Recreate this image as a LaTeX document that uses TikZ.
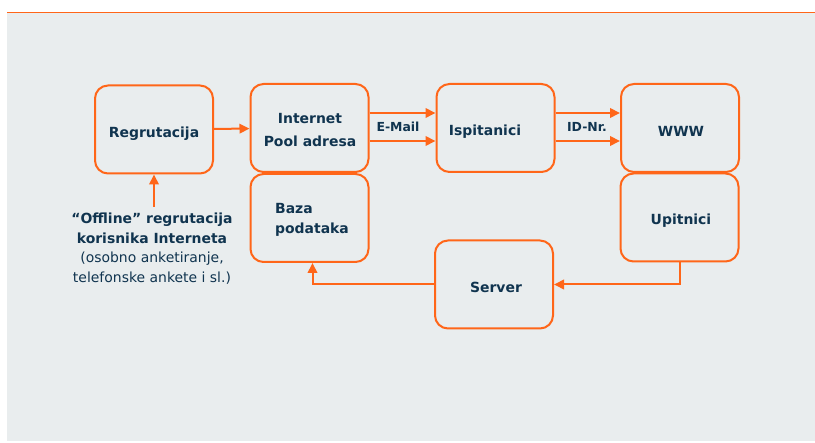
\documentclass[tikz,border=0pt]{standalone}
\usepackage{fontspec}
\setmainfont{DejaVu Sans}
\usetikzlibrary{arrows.meta}
\definecolor{orng}{HTML}{FF6619}
\definecolor{navy}{HTML}{10344F}
\definecolor{panel}{HTML}{E9EDEE}
\tikzset{
  box/.style={draw=orng, line width=2bp, rounded corners=13bp, minimum width=118bp, minimum height=88bp, inner sep=0pt},
  lbl/.style={text=navy, font=\fontsize{14}{23}\selectfont\bfseries, inner sep=0pt},
  small/.style={text=navy, font=\fontsize{12.5}{14}\selectfont\bfseries, inner sep=0pt, anchor=base},
  arr/.style={draw=orng, line width=2bp, -{Triangle[length=10bp,width=9.5bp]}},
}
\begin{document}
\begin{tikzpicture}[x=1bp,y=-1bp]
\useasboundingbox (0,0) rectangle (815,443);
\fill[panel] (7,13) rectangle (815,441);
\draw[orng, line width=1.5bp] (7,12.5) -- (815,12.5);

\node[box] (reg) at (154,129.5) {};
\node[lbl, anchor=base] (regt) at (154,138) {Regrutacija};
\node[box] (inet) at (309.5,128) {};
\node[lbl, anchor=north, align=center] (inett) at (310,113.5) {Internet\\Pool adresa};
\node[box] (baza) at (309.5,218) {};
\node[lbl, anchor=north, align=left, font=\fontsize{14}{20}\selectfont\bfseries] (bazat) at (312,203) {Baza\\podataka};
\node[box] (isp) at (495.5,128) {};
\node[lbl, anchor=base] (ispt) at (485,136) {Ispitanici};
\node[box] (www) at (680,128) {};
\node[lbl, anchor=base] (wwwt) at (681,136.5) {WWW};
\node[box] (upit) at (679.5,217.5) {};
\node[lbl, anchor=base] (upitt) at (681,225) {Upitnici};
\node[box] (serv) at (494,284.5) {};
\node[lbl, anchor=base] (servt) at (496,293) {Server};

\draw[arr] (reg) -- (inet);
\draw[arr] ([yshift=15bp]inet.east) -- ([yshift=15bp]isp.west);
\draw[arr] ([yshift=-13bp]inet.east) -- ([yshift=-13bp]isp.west);
\node[small] (email) at (398,132) {E-Mail};
\draw[arr] ([yshift=15bp]isp.east) -- ([yshift=15bp]www.west);
\draw[arr] ([yshift=-13bp]isp.east) -- ([yshift=-13bp]www.west);
\node[small] (idnr) at (587,132) {ID-Nr.};

\draw[arr] (upit.south) |- (serv.east);
\draw[arr] (serv.west) -| ([xshift=3bp]baza.south);

\coordinate (off) at (154,207);
\draw[arr] (off) -- (reg.south);
\node[text=navy, align=center, inner sep=0pt, anchor=north, font=\fontsize{14}{19.5}\selectfont] (offt) at (152,213)
  {\textbf{“Offline” regrutacija}\\\textbf{korisnika Interneta}\\(osobno anketiranje,\\telefonske ankete i sl.)};
\end{tikzpicture}
\end{document}
